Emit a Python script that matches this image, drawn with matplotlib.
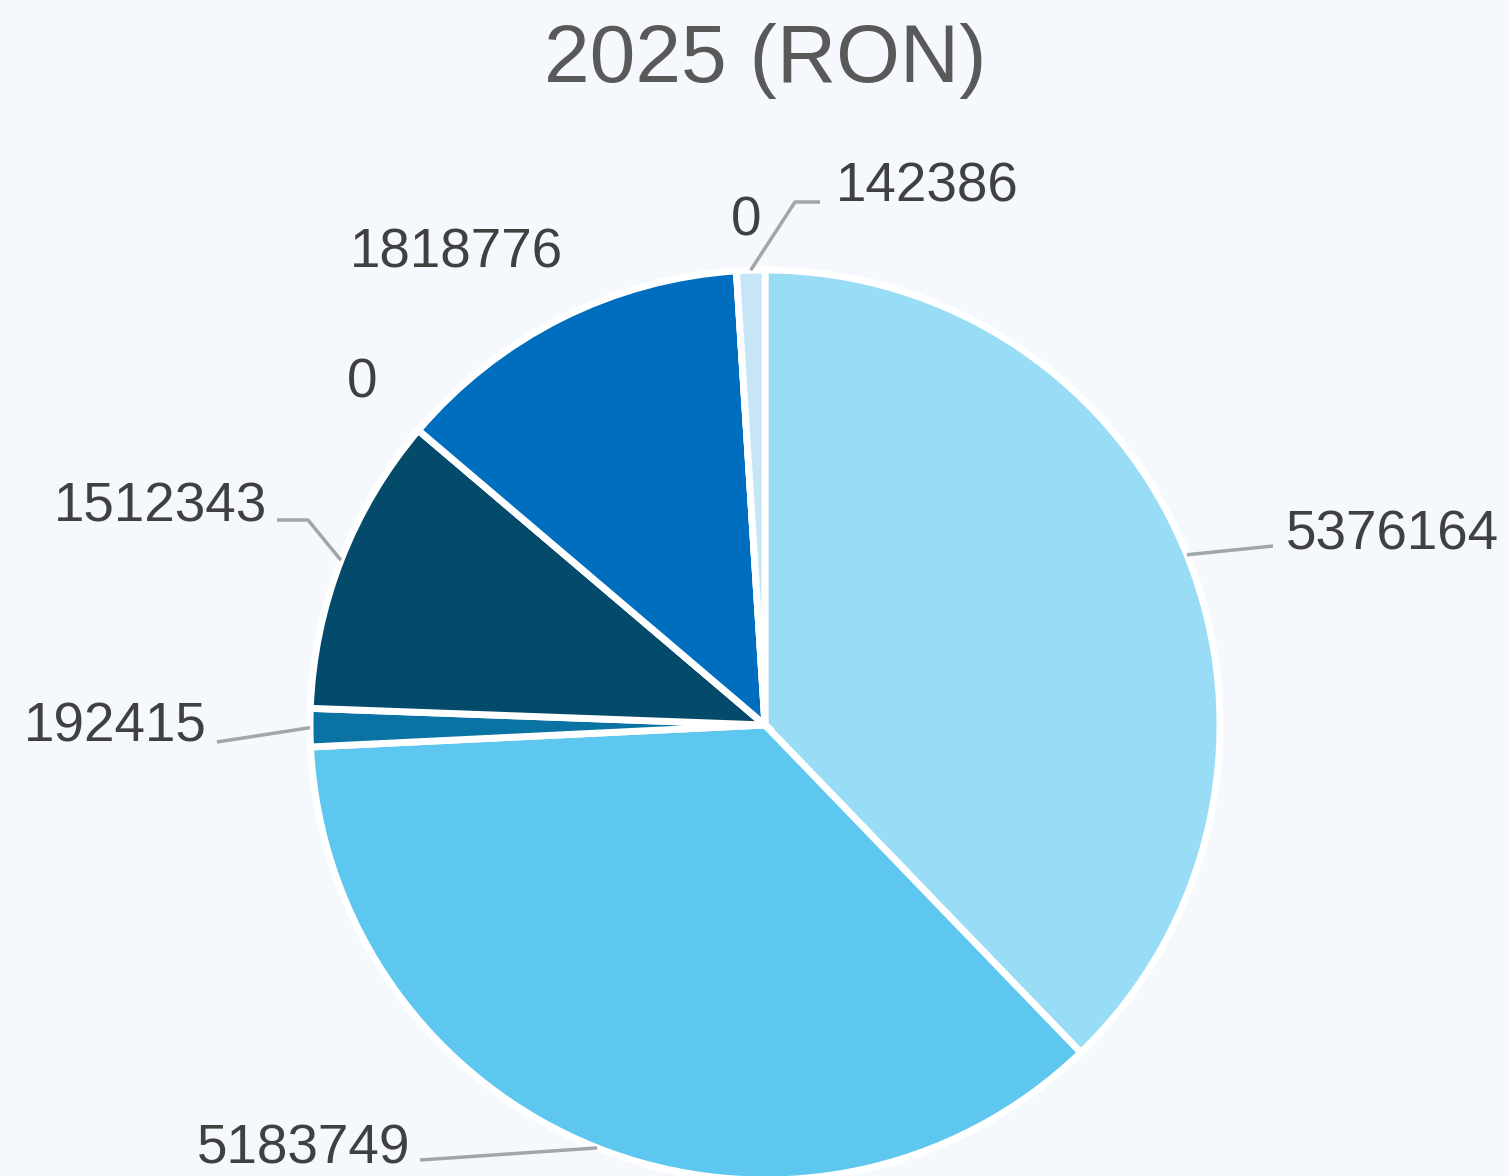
import matplotlib
matplotlib.use("Agg")
import matplotlib.pyplot as plt
import numpy as np

title = "2025 (RON)"
values = [5376164, 5183749, 192415, 1512343, 0, 1818776, 0, 142386]
labels = [str(v) for v in values]
colors = ["#98DCF5", "#5EC7EF", "#0B73A3", "#044B6B", "#1F4E79", "#006EBF", "#2E75B6", "#C6E6F7"]

# label layout (pixel coords, y from top): (x, baseline_y, ha, elbow points or None)
label_layout = [
    (1286, 550, "left", [(1273, 546)]),
    (410, 1163, "right", [(420, 1160)]),
    (207, 742, "right", [(217, 742)]),
    (267, 521, "right", [(308, 520), (277, 520)]),
    (362, 397, "center", None),
    (456, 268, "center", None),
    (746, 236, "center", None),
    (836, 202, "left", [(795, 202), (820, 202)]),
]

W, H = 1509, 1176
bg = "#F5F9FE"
fig = plt.figure(figsize=(W / 100, H / 100), dpi=100, facecolor=bg)
ax = fig.add_axes([0, 0, 1, 1])
ax.set_facecolor(bg)
ax.set_xlim(0, W)
ax.set_ylim(0, H)
ax.set_aspect("equal")
ax.axis("off")

cx, cy_top, R = 765, 725, 455
cy = H - cy_top

wedges, _ = ax.pie(values, colors=colors, startangle=90, counterclock=False,
                   center=(cx, cy), radius=R, normalize=True,
                   wedgeprops=dict(edgecolor="white", linewidth=5))
ax.set_xlim(0, W)
ax.set_ylim(0, H)

total = sum(values)
start = 0.0
font = "Liberation Sans"
for v, lab, (tx, ty, ha, elbows) in zip(values, labels, label_layout):
    frac = v / total
    mid = start + frac * 360 / 2
    start += frac * 360
    ang = np.deg2rad(mid)
    ax_x = cx + R * np.sin(ang)
    ax_y = cy + R * np.cos(ang)
    if elbows:
        xs = [ax_x] + [e[0] for e in elbows]
        ys = [ax_y] + [H - e[1] for e in elbows]
        ax.plot(xs, ys, color="#A3A6A8", lw=2.5, solid_capstyle="butt")
    ax.text(tx, H - ty, lab, ha=ha, va="baseline", fontsize=39.5,
            color="#404040", family=font)

ax.text(765, H - 82, title, ha="center", va="baseline", fontsize=59,
        color="#595959", family=font)

fig.savefig("out.png", dpi=100, facecolor=bg)
